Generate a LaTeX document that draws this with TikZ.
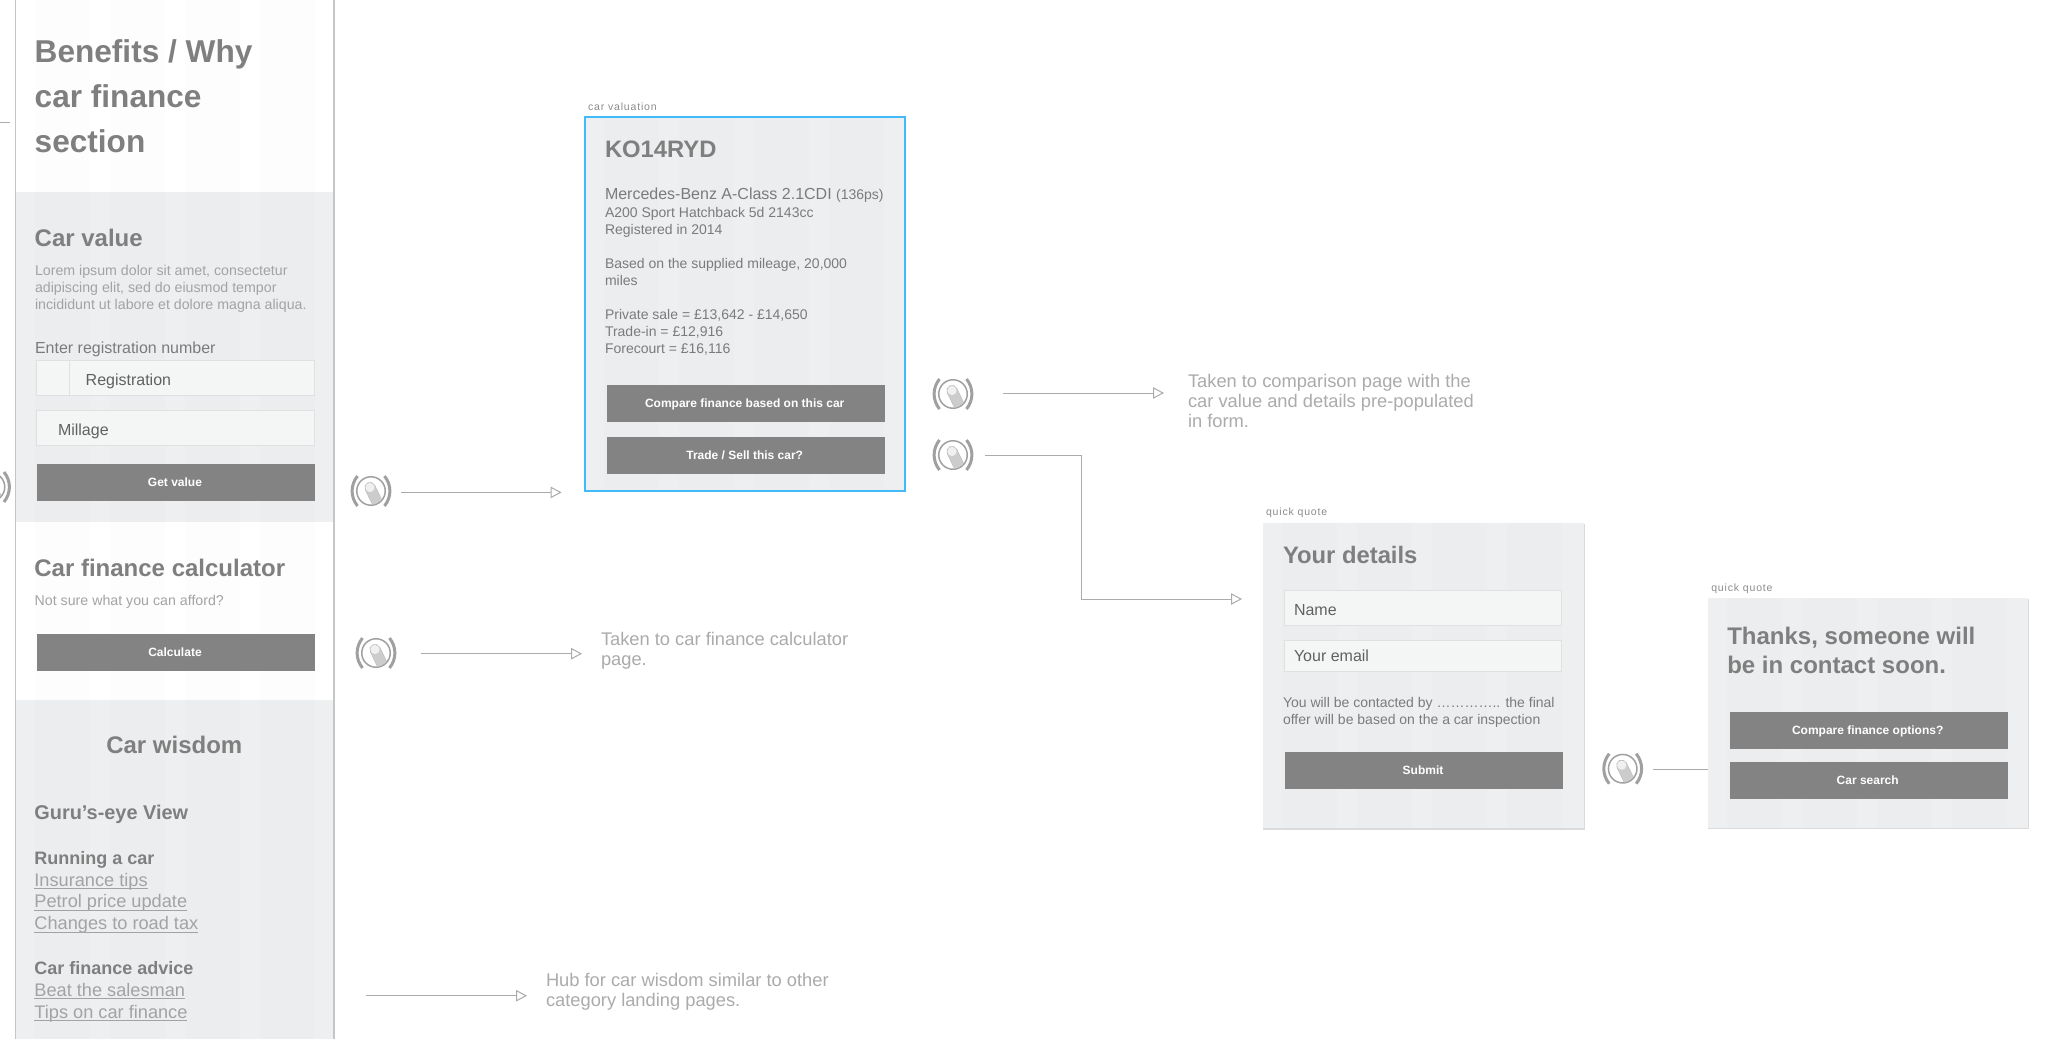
\documentclass[tikz,border=0pt]{standalone}
\usepackage{fontspec}
\setmainfont{Liberation Sans}
\usetikzlibrary{arrows.meta,calc}
\definecolor{hd}{HTML}{7F7F7F}
\definecolor{body}{HTML}{7B7B7B}
\definecolor{lite}{HTML}{A3A3A3}
\definecolor{note}{HTML}{ABABAB}
\definecolor{paneledge}{HTML}{C6C6C6}
\definecolor{sect}{HTML}{EEEFF1}
\definecolor{btn}{HTML}{838383}
\definecolor{wire}{HTML}{ABABAB}
\definecolor{sel}{HTML}{41BBF7}
\definecolor{fieldbg}{HTML}{F4F5F5}
\definecolor{fieldln}{HTML}{DFE0E0}
\definecolor{icn}{HTML}{A0A0A0}
\newcommand{\fsz}[1]{\fontsize{#1}{#1}\selectfont}
\newcommand{\touchicon}[3]{%
  \node[circle,minimum size=28.5pt,inner sep=0pt,draw=icn,line width=1.5pt,fill=white] (#1) at (#2,#3) {};
  \begin{scope}[shift={(#2,#3)}]
    \clip (0,0) circle (13.5);
    \draw[line width=11pt,color=black!28,line cap=round] (-1,-3.5) -- (7,13);
    \draw[line width=10pt,color=black!20,line cap=round] (-1,-3.5) -- (7,13);
    \fill[black!6] (-1,-3.5) circle (4.6);
  \end{scope}
  \draw[icn,line width=3pt] ($(#2,#3)+(-13.5,-15)$) .. controls ($(#2,#3)+(-20.7,-6)$) and ($(#2,#3)+(-20.7,6)$) .. ($(#2,#3)+(-13.5,15)$);
  \draw[icn,line width=3pt] ($(#2,#3)+(13.5,-15)$) .. controls ($(#2,#3)+(20.7,-6)$) and ($(#2,#3)+(20.7,6)$) .. ($(#2,#3)+(13.5,15)$);
}
\newcommand{\bands}[3]{% left edge, top, bottom of a section with faint vertical bands
  \foreach \k in {0,1,2,3}{
    \fill[black,opacity=.009] ({#1+19+75*\k},#2) rectangle ({#1+74+75*\k},#3);
  }
}
\tikzset{
  txt/.style={anchor=base west,inner sep=0pt,outer sep=0pt},
  h1/.style={txt,text=hd,font=\bfseries\fsz{31.6}},
  h2/.style={txt,text=hd,font=\bfseries\fsz{24}},
  h2b/.style={txt,text=hd,font=\bfseries\fsz{23.8}},
  h3/.style={txt,text=hd,font=\bfseries\fsz{18}},
  lt/.style={txt,text=lite,font=\fsz{14.2}},
  lk/.style={txt,text=lite,font=\fsz{18.2}},
  bd/.style={txt,text=body,font=\fsz{14}},
  fd/.style={txt,text=black!62,font=\fsz{16}},
  nt/.style={txt,text=note,font=\fsz{18.3}},
  tag/.style={txt,text=black!45,font=\fsz{10.5}\addfontfeature{LetterSpace=8}},
  btnbox/.style={fill=btn,draw=none},
  btnlab/.style={anchor=base,inner sep=0pt,text=white,font=\bfseries\fsz{12}},
  field/.style={fill=fieldbg,draw=fieldln,line width=1pt},
  conn/.style={draw=wire,line width=1pt},
  tipped/.style={conn,-{Triangle[open,length=11pt,width=11.5pt,line width=1pt]}},
  card shadow/.style={fill=black!14},
}
\begin{document}
\begin{tikzpicture}[x=1pt,y=-1pt]
\useasboundingbox (0,0) rectangle (2057,1039);
\fill[white] (0,0) rectangle (2057,1039);
% left page panel
\fill[sect] (15.5,191.5) rectangle (334,522);
\fill[sect] (15.5,700) rectangle (334,1039);
\bands{15.5}{0}{1039}
\draw[paneledge,line width=1.2pt] (15.5,0) -- (15.5,1039);
\draw[paneledge,line width=1.2pt] (334,0) -- (334,1039);
\node[h1] (benefits1) at (34.7,62) {Benefits / Why};
\node[h1] (benefits2) at (34.7,107) {car finance};
\node[h1] (benefits3) at (34.7,152.5) {section};
\node[h2] (carvalue) at (34.7,246) {Car value};
\node[lt] (lorem1) at (35,275.5) {Lorem ipsum dolor sit amet, consectetur};
\node[lt] (lorem2) at (35,292.4) {adipiscing elit, sed do eiusmod tempor};
\node[lt] (lorem3) at (35,309) {incididunt ut labore et dolore magna aliqua.};
\node[txt,text=body,font=\fsz{16}] (enterreg) at (35,353) {Enter registration number};
\draw[field] (36.4,360) rectangle (314,395.7);
\draw[fieldln,line width=1pt] (69.3,360) -- (69.3,395.7);
\node[fd] (reglab) at (85.7,385) {Registration};
\draw[field] (36.4,410) rectangle (314,445.6);
\node[fd] (millab) at (58,435.6) {Millage};
\fill[btnbox] (37,464) rectangle (315,501);
\node[btnlab] (getvalue) at (175,486.4) {Get value};
\node[h2] (calc) at (34.4,576.7) {Car finance calculator};
\node[txt,text=lite,font=\fsz{14.2}] (notsure) at (34.7,605) {Not sure what you can afford?};
\fill[btnbox] (37,634) rectangle (315,671);
\node[btnlab] (calculate) at (175,656.4) {Calculate};
\node[h2,anchor=base] (wisdom) at (174.3,753.7) {Car wisdom};
\node[txt,text=hd,font=\bfseries\fsz{19.9}] (guru) at (34.4,819) {Guru’s-eye View};
\node[h3] (running) at (34.4,864) {Running a car};
\node[lk] (ins) at (34.4,886) {Insurance tips};
\node[lk] (pet) at (34.4,907.7) {Petrol price update};
\node[lk] (chg) at (34.4,929.7) {Changes to road tax};
\node[h3] (advice) at (34.4,974) {Car finance advice};
\node[lk] (beat) at (34.4,996) {Beat the salesman};
\node[lk] (tips) at (34.4,1018) {Tips on car finance};
\foreach \n in {ins,pet,chg,beat,tips}{
  \draw[lite,line width=.9pt] ($(\n.base west)+(0,2.4)$) -- ($(\n.base east)+(0,2.4)$);
}
% car valuation panel
\node[tag] (tagcv) at (588,110) {car valuation};
\draw[sel,fill=sect,line width=2pt] (585,117) rectangle (905,491);
\bands{585}{118}{490}
\node[h2b] (reg) at (605,157.5) {KO14RYD};
\node[txt,text=body,font=\fsz{16}] (merc) at (605,199) {Mercedes-Benz A-Class 2.1CDI {\fsz{14}(136ps)}};
\node[bd] (a200) at (605,217.3) {A200 Sport Hatchback 5d 2143cc};
\node[bd] (regd) at (605,234.3) {Registered in 2014};
\node[bd] (based) at (605,268.3) {Based on the supplied mileage, 20,000};
\node[bd] (miles) at (605,285.3) {miles};
\node[bd] (priv) at (605,319.3) {Private sale = £13,642 - £14,650};
\node[bd] (trade) at (605,336.3) {Trade-in = £12,916};
\node[bd] (fore) at (605,353.3) {Forecourt = £16,116};
\fill[btnbox] (607,385) rectangle (885,421.7);
\node[btnlab] (cmpcar) at (744.7,407.1) {Compare finance based on this car};
\fill[btnbox] (607,437) rectangle (885,473.7);
\node[btnlab] (tradesell) at (744.7,459.1) {Trade / Sell this car?};
% your details panel
\node[tag] (tagq1) at (1266,515.7) {quick quote};
\fill[card shadow] (1263,524) rectangle (1584.5,829.6);
\fill[sect] (1263,522.7) rectangle (1583.5,828.3);
\bands{1263}{522.7}{828.3}
\node[h2b] (details) at (1283,563.5) {Your details};
\draw[field] (1284.3,590) rectangle (1561,625.7);
\node[fd] (namelab) at (1294,615.3) {Name};
\draw[field] (1284.3,640) rectangle (1561,671.7);
\node[fd] (emaillab) at (1294,661.7) {Your email};
\node[bd] (contact1) at (1283,707.3) {You will be contacted by ………….. the final};
\node[bd] (contact2) at (1283,724.3) {offer will be based on the a car inspection};
\fill[btnbox] (1285,752) rectangle (1563,788.7);
\node[btnlab] (submit) at (1423,774.1) {Submit};
% thanks panel
\node[tag] (tagq2) at (1711.3,591) {quick quote};
\fill[card shadow] (1708,599.3) rectangle (2029,829);
\fill[sect] (1708,598) rectangle (2028,827.7);
\bands{1708}{598}{827.7}
\node[h2] (thanks1) at (1727.3,644) {Thanks, someone will};
\node[h2] (thanks2) at (1727.3,673.3) {be in contact soon.};
\fill[btnbox] (1730,712) rectangle (2008,749);
\node[btnlab] (cmpopt) at (1867.7,734.1) {Compare finance options?};
\fill[btnbox] (1730,762) rectangle (2008,799);
\node[btnlab] (search) at (1867.7,784.1) {Car search};
% notes
\node[nt] (n1a) at (1188,387.3) {Taken to comparison page with the};
\node[nt] (n1b) at (1188,407.3) {car value and details pre-populated};
\node[nt] (n1c) at (1188,427.3) {in form.};
\node[nt] (n2a) at (601,645.5) {Taken to car finance calculator};
\node[nt] (n2b) at (601,665.3) {page.};
\node[nt] (n3a) at (546,986.7) {Hub for car wisdom similar to other};
\node[nt] (n3b) at (546,1006.7) {category landing pages.};
% touch icons
\touchicon{i0}{-9.5}{487}
\touchicon{i1}{371}{491}
\touchicon{i2}{376}{653}
\touchicon{i3}{953}{394}
\touchicon{i4}{953}{455}
\touchicon{i5}{1622.7}{768.7}
% connectors
\coordinate (a0s) at (0,122.6);
\coordinate (a0e) at (9.6,122.6);
\draw[conn] (a0s) -- (a0e);
\coordinate (a1e) at (561.6,492.4);
\draw[tipped] ($(i1)+(30,1.4)$) -- (a1e);
\coordinate (a2e) at (582,653.7);
\draw[tipped] ($(i2)+(45,.7)$) -- (a2e);
\coordinate (a3s) at (366,995.7);
\coordinate (a3e) at (527,995.7);
\draw[tipped] (a3s) -- (a3e);
\coordinate (a4e) at (1164,393);
\draw[tipped] ($(i3)+(50,-1)$) -- (a4e);
\coordinate (a5e) at (1242,599);
\draw[tipped] ($(i4)+(32,0)$) -- (1081.5,455) -- (1081.5,599) -- (a5e);
\coordinate (a6e) at (1708,769.3);
\draw[conn] ($(i5)+(30.3,.6)$) -- (a6e);
\end{tikzpicture}
\end{document}
